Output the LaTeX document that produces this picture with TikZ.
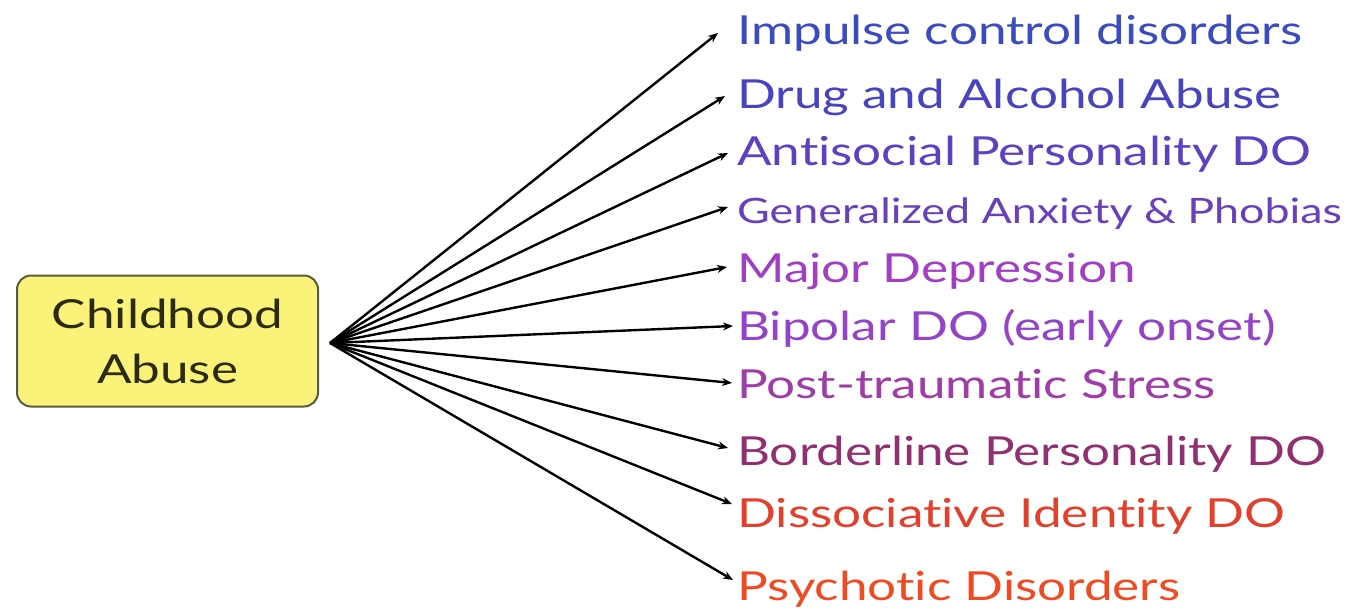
\documentclass[tikz,border=0pt]{standalone}
\usepackage{fontspec}
\setmainfont{Lato}[FakeStretch=1.28,Ligatures={NoCommon,NoRare}]
\usetikzlibrary{arrows.meta}
\definecolor{c1}{HTML}{3A4CC0}
\definecolor{c2}{HTML}{4844C0}
\definecolor{c3}{HTML}{5E40C0}
\definecolor{c4}{HTML}{6840BC}
\definecolor{c5}{HTML}{A03EC4}
\definecolor{c6}{HTML}{9442C8}
\definecolor{c7}{HTML}{A03CA8}
\definecolor{c8}{HTML}{903070}
\definecolor{c9}{HTML}{E2402C}
\definecolor{c10}{HTML}{F04A22}
\definecolor{boxfill}{HTML}{FBF27A}
\definecolor{boxdraw}{HTML}{5A5A40}
\definecolor{boxtext}{HTML}{2B2B12}
\begin{document}
\begin{tikzpicture}[x=1pt,y=-1pt,
  item/.style={anchor=base west,inner sep=0pt,font=\fontsize{40}{44}\selectfont},
  arr/.style={line width=2.4pt,-{Stealth[length=10pt,width=8pt]}}]
\useasboundingbox (0,0) rectangle (1356,610);
\node[draw=boxdraw,line width=2pt,fill=boxfill,rounded corners=14pt,
  minimum width=301pt,minimum height=131pt,align=center,
  font=\fontsize{40}{55}\selectfont,text=boxtext] (src) at (167.5,341) {Childhood\\Abuse};
\coordinate (hub) at (330,343);
\node[item,text=c1] (t1) at (737,45) {Impulse control disorders};
\node[item,text=c2] (t2) at (737,108) {Drug and Alcohol Abuse};
\node[item,text=c3] (t3) at (737,165) {Antisocial Personality DO};
\node[item,text=c4,font=\fontsize{35}{38}\selectfont] (t4) at (737,223) {Generalized Anxiety \& Phobias};
\node[item,text=c5] (t5) at (737,282) {Major Depression};
\node[item,text=c6] (t6) at (737,340) {Bipolar DO (early onset)};
\node[item,text=c7] (t7) at (737,398) {Post-traumatic Stress};
\node[item,text=c8] (t8) at (737,465) {Borderline Personality DO};
\node[item,text=c9] (t9) at (737,527) {Dissociative Identity DO};
\node[item,text=c10] (t10) at (737,600) {Psychotic Disorders};
\draw[arr] (hub) -- ([shift={(-19pt,12pt)}]t1.base west);
\draw[arr] (hub) -- ([shift={(-12pt,12pt)}]t2.base west);
\draw[arr] (hub) -- ([shift={(-9pt,12pt)}]t3.base west);
\draw[arr] (hub) -- ([shift={(-9pt,16pt)}]t4.base west);
\draw[arr] (hub) -- ([shift={(-10pt,15pt)}]t5.base west);
\draw[arr] (hub) -- ([shift={(-4pt,14pt)}]t6.base west);
\draw[arr] (hub) -- ([shift={(-5pt,15pt)}]t7.base west);
\draw[arr] (hub) -- ([shift={(-9pt,17pt)}]t8.base west);
\draw[arr] (hub) -- ([shift={(-5pt,23pt)}]t9.base west);
\draw[arr] (hub) -- ([shift={(-4pt,20pt)}]t10.base west);
\end{tikzpicture}
\end{document}
